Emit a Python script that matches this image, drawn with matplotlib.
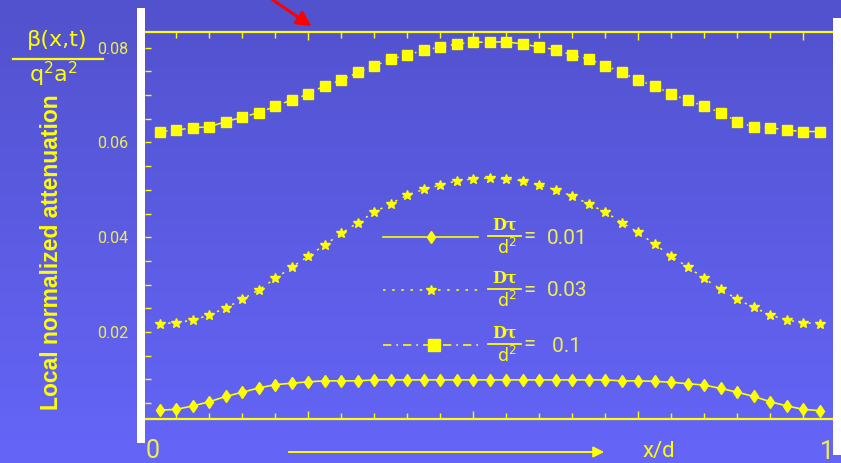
import matplotlib
matplotlib.use("Agg")
import matplotlib.pyplot as plt
import numpy as np
from matplotlib.patches import Rectangle

# local normalized attenuation beta(x,t)/(q^2 a^2) along x/d, 41 points
x_idx = np.arange(41)

att_001 = [0.0035, 0.0037, 0.0044, 0.0053, 0.0064, 0.0073, 0.0082, 0.0089, 0.0092, 0.0095,
           0.0097, 0.0097, 0.0097, 0.0099, 0.0099, 0.0099, 0.0099, 0.0099, 0.0099, 0.0099,
           0.0099, 0.0099, 0.0099, 0.0099, 0.0099, 0.0099, 0.0099, 0.0099, 0.0097, 0.0097,
           0.0096, 0.0094, 0.0091, 0.0088, 0.0081, 0.0073, 0.0064, 0.0053, 0.0044, 0.0037,
           0.0034]

att_003 = [0.0217, 0.0220, 0.0225, 0.0236, 0.0251, 0.0269, 0.0289, 0.0313, 0.0337, 0.0360,
           0.0384, 0.0408, 0.0431, 0.0453, 0.0471, 0.0489, 0.0501, 0.0510, 0.0519, 0.0523,
           0.0525, 0.0523, 0.0519, 0.0510, 0.0500, 0.0487, 0.0470, 0.0453, 0.0431, 0.0410,
           0.0385, 0.0360, 0.0337, 0.0313, 0.0290, 0.0269, 0.0252, 0.0236, 0.0225, 0.0220,
           0.0217]

att_01 = [0.0623, 0.0626, 0.0631, 0.0633, 0.0644, 0.0653, 0.0663, 0.0676, 0.0690, 0.0702,
          0.0720, 0.0731, 0.0748, 0.0761, 0.0776, 0.0784, 0.0795, 0.0801, 0.0808, 0.0811,
          0.0812, 0.0812, 0.0808, 0.0801, 0.0796, 0.0784, 0.0776, 0.0762, 0.0748, 0.0731,
          0.0719, 0.0702, 0.0689, 0.0676, 0.0663, 0.0644, 0.0632, 0.0631, 0.0626, 0.0623,
          0.0623]

legend_vals = ["0.01", "0.03", " 0.1"]
ytick_vals = [0.02, 0.04, 0.06, 0.08]

YEL = "#FFFF00"
PALE = "#EEEE50"
W, H = 841, 463

fig = plt.figure(figsize=(W / 100, H / 100), dpi=100)

# gradient background
bg = fig.add_axes([0, 0, 1, 1], zorder=-10)
grad = np.linspace(0, 1, 256)[:, None]
top = np.array([82, 82, 206]) / 255
bot = np.array([101, 101, 248]) / 255
img = top[None, None, :] * (1 - grad[:, :, None]) + bot[None, None, :] * grad[:, :, None]
bg.imshow(img, aspect="auto", extent=[0, 1, 0, 1])
bg.axis("off")

# main axes
ax = fig.add_axes([145 / W, 1 - 419 / H, (833 - 145) / W, (419 - 32) / H])
ax.patch.set_alpha(0)

ax.plot(x_idx, att_001, color=YEL, lw=1.2, marker="d", ms=6.5, mec=YEL, mfc=YEL)
ax.plot(x_idx, att_003, color=YEL, lw=1.1, dashes=(1.5, 4), marker="*", ms=7, mec=YEL, mfc=YEL)
ax.plot(x_idx, att_01, color=YEL, lw=1.1, dashes=(5, 3, 1, 3), marker="s", ms=7.5, mec=YEL, mfc=YEL)

ax.set_xlim(-0.9, 40.8)
ax.set_ylim(0.00165, 0.0833)

for s in ["left", "right"]:
    ax.spines[s].set_visible(False)
for s in ["top", "bottom"]:
    ax.spines[s].set_color(YEL)
    ax.spines[s].set_linewidth(1.6)

ax.set_xticks([9, 19, 29, 39])
ax.set_xticks(np.arange(1, 41, 2), minor=True)
ax.tick_params(axis="x", which="both", direction="in", top=True, bottom=True,
               labelbottom=False, color=YEL, width=1)
ax.tick_params(axis="x", which="major", length=6)
ax.tick_params(axis="x", which="minor", length=4)

ax.set_yticks(ytick_vals)
ax.set_yticklabels(["%.2f" % v for v in ytick_vals])
ax.set_yticks(np.arange(0.005, 0.0831, 0.005), minor=True)
ax.tick_params(axis="y", which="both", direction="in", left=True, right=False,
               color=YEL, width=1, length=4, pad=12, labelcolor=PALE, labelsize=11.5)
for t in ax.get_yticklabels():
    t.set_family(["Roboto", "DejaVu Sans"])

# overlay in pixel coordinates for annotations
ov = fig.add_axes([0, 0, 1, 1], zorder=5)
ov.set_xlim(0, W)
ov.set_ylim(H, 0)
ov.axis("off")

ov.add_patch(Rectangle((137, 8), 8, 435, color="white", lw=0))
ov.add_patch(Rectangle((833, 18), 8, 437, color="white", lw=0))

thin = dict(family=["Roboto", "DejaVu Sans"], color=PALE)

# y label and fraction
ov.text(52, 252, "Local normalized attenuation", rotation=90, ha="center", va="center",
        fontsize=16.5, fontweight="bold", color=YEL, family=["Liberation Sans", "DejaVu Sans"])
ov.text(57, 40, "\u03b2(x,t)", ha="center", va="center", fontsize=16, color=YEL,
        family=["DejaVu Sans"])
ov.plot([13, 103], [58.5, 58.5], color=YEL, lw=1.6)
ov.text(53, 74, r"$\mathregular{q^2a^2}$", ha="center", va="center", fontsize=16,
        color=YEL, family=["DejaVu Sans"])

# x axis annotations
ov.text(153, 451, "0", ha="center", va="center", fontsize=18, **thin)
ov.text(827, 452, "1", ha="center", va="center", fontsize=18, **thin)
ov.text(659, 452, "x/d", ha="center", va="center", fontsize=16, family=["Roboto", "DejaVu Sans"],
        color=YEL)
ov.annotate("", xy=(607, 452), xytext=(286, 452),
            arrowprops=dict(arrowstyle="-|>", color=YEL, lw=1.4, mutation_scale=16))

# red arrow
ov.annotate("", xy=(314, 28), xytext=(270, -2),
            arrowprops=dict(arrowstyle="-|>", color="red", lw=2.2, mutation_scale=22))

# legend
leg_y = [237, 290, 345]
leg_mark = [431, 431, 434]
styles = [dict(ls="-", marker="d", ms=6.5),
          dict(dashes=(1.5, 4), marker="*", ms=7),
          dict(dashes=(5, 3, 1, 3), marker="s", ms=8)]
for y0, mx, st, lab in zip(leg_y, leg_mark, styles, legend_vals):
    mk = st.pop("marker")
    ms = st.pop("ms")
    ov.plot([383, 478], [y0, y0], color=YEL, lw=1.2, **st)
    ov.plot([mx], [y0], marker=mk, ms=ms, color=YEL, ls="none")
    ov.text(505, y0 - 12, "D\u03c4", ha="center", va="center", fontsize=11.5,
            fontweight="bold", color=YEL, family=["DejaVu Serif"])
    ov.plot([488, 521], [y0 - 1, y0 - 1], color=YEL, lw=1.3)
    ov.text(507, y0 + 11, r"$\mathregular{d^2}$", ha="center", va="center",
            fontsize=12.5, color=YEL, family=["DejaVu Sans"])
    ov.text(523, y0, "=", ha="left", va="center", fontsize=16, **thin)
    ov.text(547, y0 + 1, lab, ha="left", va="center", fontsize=15, **thin)

fig.savefig("out.png", dpi=100)
